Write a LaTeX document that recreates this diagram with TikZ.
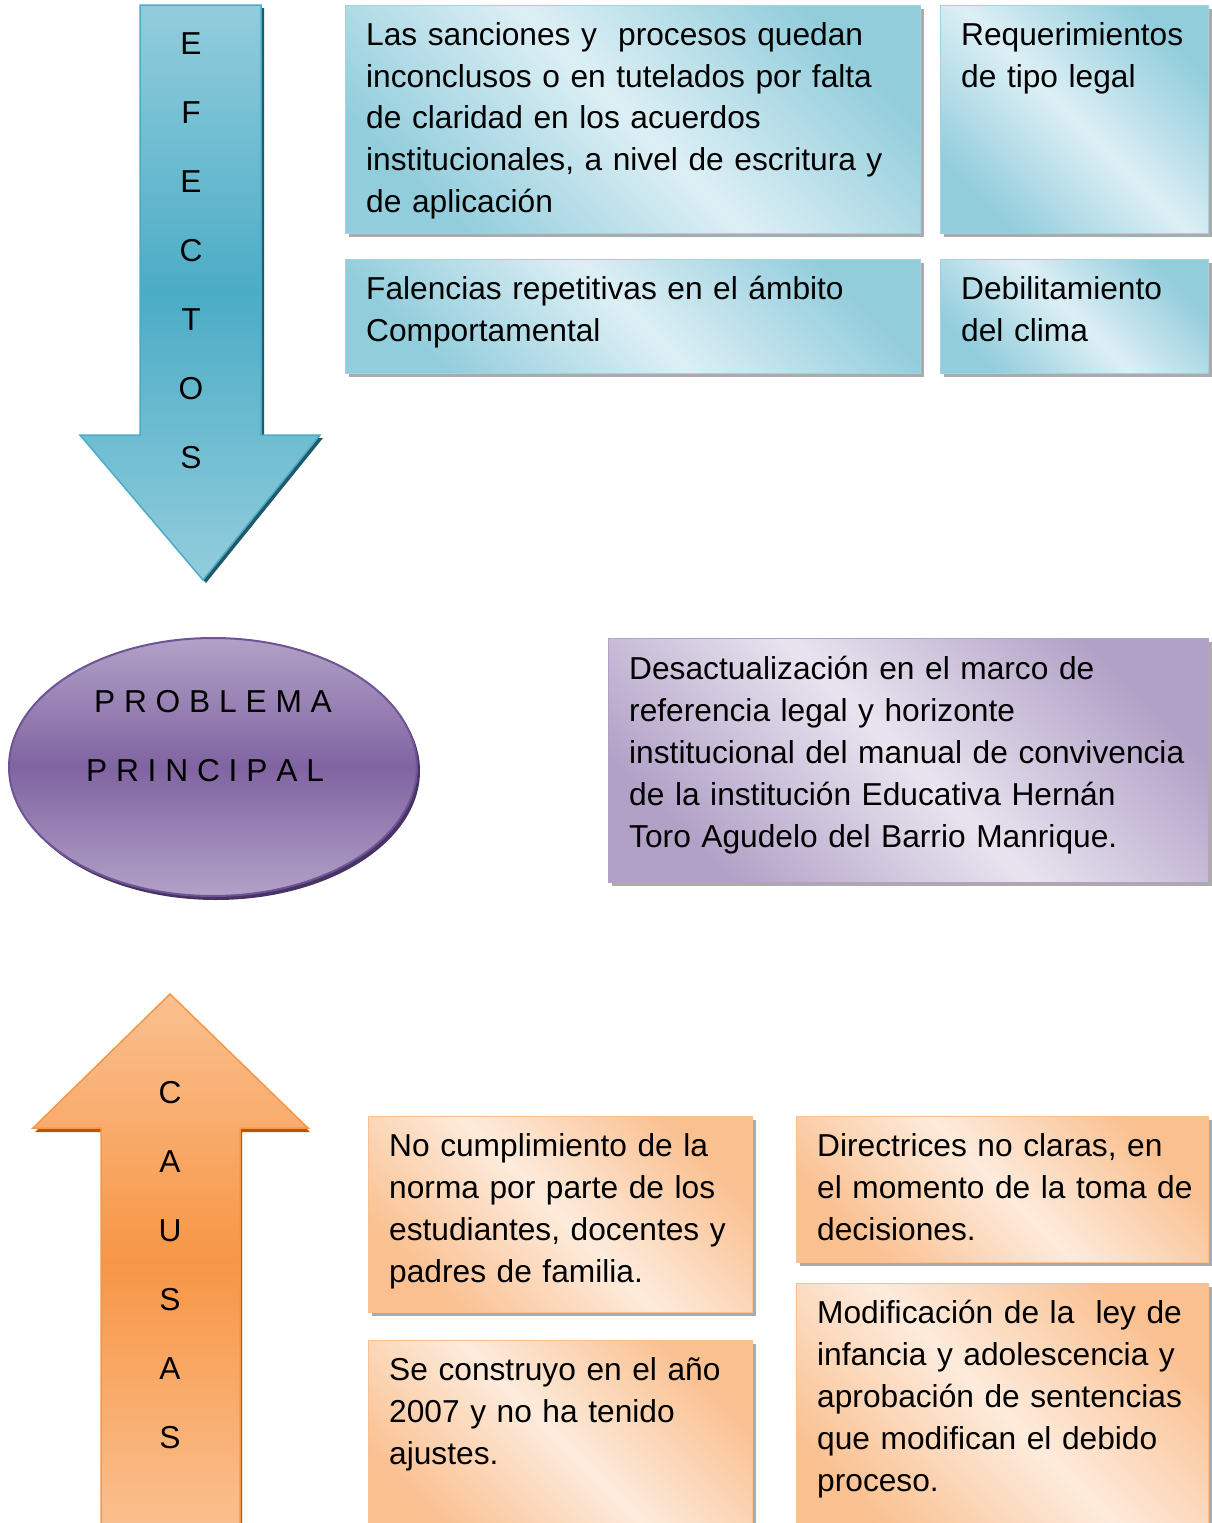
\documentclass[tikz,border=0pt]{standalone}
\usepackage{fontspec}
\setmainfont{Liberation Sans}
\usetikzlibrary{shapes.geometric,shadows}
\definecolor{bluedark}{RGB}{146,205,220}
\definecolor{bluelight}{RGB}{221,239,245}
\definecolor{blueedge}{RGB}{160,210,224}
\definecolor{bluemid}{RGB}{75,172,198}
\definecolor{blueshadow}{RGB}{33,89,104}
\definecolor{purpdark}{RGB}{178,161,199}
\definecolor{purplight}{RGB}{232,228,239}
\definecolor{purpmid}{RGB}{128,100,162}
\definecolor{purpedge}{RGB}{110,84,150}
\definecolor{purpshadow}{RGB}{72,52,98}
\definecolor{orgdark}{RGB}{250,192,144}
\definecolor{orglight}{RGB}{253,235,220}
\definecolor{orgmid}{RGB}{247,150,70}
\definecolor{orgshadow}{RGB}{182,87,8}
\begin{document}
\begin{tikzpicture}[x=1pt,y=-1pt,
  every node/.style={font=\fontsize{31.7}{42}\selectfont},
  cuadro/.style={anchor=north west,inner sep=0pt,line width=1pt,
    drop shadow={shadow xshift=3pt,shadow yshift=-3pt,fill=black!55,opacity=.6}},
  efecto/.style={cuadro,draw=blueedge,left color=bluedark,right color=bluedark,middle color=bluelight,shading angle=135},
  causa/.style={cuadro,draw=orgdark,left color=orgdark,right color=orgdark,middle color=orglight,shading angle=135},
  txt/.style={anchor=base west,align=left,inner sep=0pt,xshift=21pt,yshift=-40pt}]
\useasboundingbox (0,0) rectangle (1212,1523);

% flecha de efectos
\draw[bluemid,line width=1.5pt,top color=bluedark,bottom color=bluedark,middle color=bluemid,
  preaction={fill=blueshadow,transform canvas={shift={(3pt,-3pt)}}}]
  (140,5) -- (261,5) -- (261,435) -- (320,435) -- (203,580) -- (80,435) -- (140,435) -- cycle;
\foreach \l [count=\i] in {E,F,E,C,T,O,S}
  \node (ef\i) at (191,{44+69*(\i-1)}) {\l};

% efectos
\node[efecto,minimum width=575,minimum height=228] (e1) at (345,5) {};
\node[efecto,minimum width=268,minimum height=228] (e2) at (940,5) {};
\node[efecto,minimum width=575,minimum height=114] (e3) at (345,259) {};
\node[efecto,minimum width=268,minimum height=114] (e4) at (940,259) {};
\node[txt,text width=560] (e1t) at (e1.north west) {Las sanciones y\ \ procesos quedan\\inconclusos o en tutelados por falta\\de claridad en los acuerdos\\institucionales, a nivel de escritura y\\de aplicación};
\node[txt,text width=260] (e2t) at (e2.north west) {Requerimientos\\de tipo legal};
\node[txt,text width=560] (e3t) at (e3.north west) {Falencias repetitivas en el ámbito\\Comportamental};
\node[txt,text width=260] (e4t) at (e4.north west) {Debilitamiento\\del clima};

% problema principal
\node[ellipse,minimum width=408,minimum height=258,inner sep=0pt,draw=purpedge,line width=2pt,
  top color=purpdark,bottom color=purpdark,middle color=purpmid,
  drop shadow={shadow xshift=3pt,shadow yshift=-4pt,fill=purpshadow,opacity=1}] (pe) at (213,767) {};
\node (pe1) at (213,702) {P R O B L E M A};
\node (pe2) at (205,771) {P R I N C I P A L};
\node[cuadro,draw=purpdark,left color=purpdark,right color=purpdark,middle color=purplight,shading angle=135,
  minimum width=600,minimum height=244] (pp) at (608,638) {};
\node[txt,text width=585,yshift=-1pt] (ppt) at (pp.north west) {Desactualización en el marco de\\referencia legal y horizonte\\institucional del manual de convivencia\\de la institución Educativa Hernán\\Toro Agudelo del Barrio Manrique.};

% flecha de causas
\draw[orgmid,line width=1.5pt,top color=orgdark,bottom color=orgdark,middle color=orgmid,
  preaction={fill=orgshadow,transform canvas={shift={(2pt,-4pt)}}}]
  (170,994) -- (308,1128) -- (240,1128) -- (240,1530) -- (101,1530) -- (101,1128) -- (33,1128) -- cycle;
\foreach \l [count=\i] in {C,A,U,S,A,S}
  \node (ca\i) at (170,{1093+69*(\i-1)}) {\l};

% causas
\node[causa,minimum width=384,minimum height=196] (c1) at (368,1116) {};
\node[causa,minimum width=412,minimum height=146] (c2) at (796,1116) {};
\node[causa,minimum width=384,minimum height=200] (c3) at (368,1340) {};
\node[causa,minimum width=412,minimum height=260] (c4) at (796,1283) {};
\node[txt,text width=370] (c1t) at (c1.north west) {No cumplimiento de la\\norma por parte de los\\estudiantes, docentes y\\padres de familia.};
\node[txt,text width=400] (c2t) at (c2.north west) {Directrices no claras, en\\el momento de la toma de\\decisiones.};
\node[txt,text width=370] (c3t) at (c3.north west) {Se construyo en el año\\2007 y no ha tenido\\ajustes.};
\node[txt,text width=400] (c4t) at (c4.north west) {Modificación de la\ \ ley de\\infancia y adolescencia y\\aprobación de sentencias\\que modifican el debido\\proceso.};
\end{tikzpicture}
\end{document}
